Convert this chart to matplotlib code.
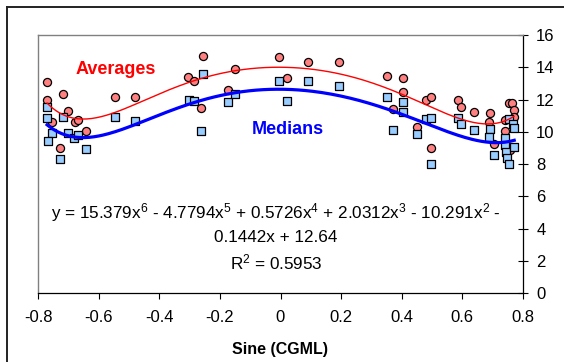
import matplotlib
matplotlib.use('Agg')
import matplotlib.pyplot as plt
from matplotlib.lines import Line2D
import numpy as np

plt.rcParams['font.family'] = ['Liberation Sans', 'DejaVu Sans']
plt.rcParams['mathtext.fontset'] = 'custom'
plt.rcParams['mathtext.rm'] = 'Liberation Sans'
plt.rcParams['mathtext.it'] = 'Liberation Sans'

# Averages (red circles)
avg_x = [-0.771, -0.771, -0.718, -0.701, -0.756, -0.679, -0.668, -0.642, -0.728, -0.547,
         -0.481, -0.305, -0.285, -0.255, -0.264, -0.175, -0.149, -0.005, 0.020, 0.090,
         0.193, 0.352, 0.405, 0.405, 0.370, 0.450, 0.481, 0.497, 0.497, 0.586,
         0.596, 0.640, 0.692, 0.689, 0.705, 0.740, 0.742, 0.755, 0.766, 0.770,
         0.771, 0.758]
avg_y = [13.09, 11.98, 12.35, 11.31, 10.63, 10.63, 10.71, 10.06, 9.02, 12.16,
         12.16, 13.38, 13.17, 14.72, 11.46, 12.60, 13.87, 14.66, 13.36, 14.35,
         14.35, 13.46, 13.36, 12.49, 11.40, 10.32, 11.98, 12.16, 9.00, 11.98,
         11.56, 11.23, 11.15, 10.63, 9.25, 10.06, 10.71, 11.77, 11.77, 11.36,
         10.95, 8.88]

# Medians (blue squares)
med_x = [-0.771, -0.771, -0.755, -0.767, -0.718, -0.701, -0.681, -0.670, -0.728, -0.643,
         -0.548, -0.482, -0.303, -0.285, -0.255, -0.264, -0.175, -0.149, -0.006, 0.020,
         0.090, 0.193, 0.352, 0.370, 0.405, 0.405, 0.450, 0.481, 0.497, 0.497,
         0.586, 0.596, 0.640, 0.692, 0.689, 0.706, 0.740, 0.742, 0.745, 0.747,
         0.755, 0.755, 0.768, 0.771, 0.772]
med_y = [11.56, 10.88, 9.95, 9.45, 10.95, 9.95, 9.60, 9.81, 8.34, 8.94,
         10.95, 10.66, 11.98, 11.91, 13.57, 10.07, 11.83, 12.35, 13.17, 11.91,
         13.17, 12.86, 12.16, 10.12, 11.88, 11.23, 9.87, 10.80, 10.86, 7.98,
         10.83, 10.49, 10.12, 10.16, 9.70, 8.57, 9.60, 9.19, 8.77, 8.36,
         7.99, 10.80, 10.49, 10.21, 9.08]

# trendline coefficients shown on the chart (medians), highest power first
med_coef = [15.379, -4.7794, 0.5726, 2.0312, -10.291, -0.1442, 12.64]

x_ticks = [-0.8, -0.6, -0.4, -0.2, 0, 0.2, 0.4, 0.6, 0.8]
x_labels = ['-0.8', '-0.6', '-0.4', '-0.2', '0', '0.2', '0.4', '0.6', '0.8']
y_ticks = [0, 2, 4, 6, 8, 10, 12, 14, 16]

fig = plt.figure(figsize=(5.64, 3.62), dpi=100)
ax = fig.add_axes([38.3 / 564, 68.7 / 362, 484.4 / 564, 258.3 / 362])

ax.scatter(avg_x, avg_y, s=34, marker='o', facecolor='#FF8080', edgecolor='black',
           linewidth=0.9, zorder=3)
ax.scatter(med_x, med_y, s=34, marker='s', facecolor='#99CCFF', edgecolor='black',
           linewidth=0.9, zorder=4)

# 6th order polynomial trendlines
avg_coef = np.polyfit(avg_x, avg_y, 6)
xa = np.linspace(min(avg_x), max(avg_x), 200)
ax.plot(xa, np.polyval(avg_coef, xa), color='red', linewidth=1.0, zorder=5)
xm = np.linspace(min(med_x), max(med_x), 200)
ax.plot(xm, np.polyval(med_coef, xm), color='blue', linewidth=2.3, zorder=5)

ax.set_xlim(-0.8, 0.8)
ax.set_ylim(0, 16)
ax.set_xticks(x_ticks)
ax.set_xticklabels(x_labels)
ax.set_yticks(y_ticks)
ax.yaxis.tick_right()
ax.tick_params(axis='y', direction='inout', length=7.5, width=0.8, pad=6, labelsize=12)
ax.tick_params(axis='x', direction='out', length=4, width=0.8, pad=8, labelsize=12)

for side in ['top', 'left']:
    ax.spines[side].set_color('#808080')
    ax.spines[side].set_linewidth(1.0)
for side in ['right', 'bottom']:
    ax.spines[side].set_color('black')
    ax.spines[side].set_linewidth(0.9)

ax.set_xlabel('Sine (CGML)', fontsize=11.5, fontweight='bold', labelpad=12)

ax.text((116 - 38.3) / 484.4, (293.3 - 70) / 258.3, 'Averages', color='red', fontsize=13,
        fontweight='bold', ha='center', va='center', transform=ax.transAxes)
ax.text((287.5 - 38.3) / 484.4, (293.3 - 130) / 258.3, 'Medians', color='blue', fontsize=13,
        fontweight='bold', ha='center', va='center', transform=ax.transAxes)

eq1 = ('y = 15.379x$^{6}$ - 4.7794x$^{5}$ + 0.5726x$^{4}$ + 2.0312x$^{3}$ - '
       '10.291x$^{2}$ -')
ax.text(0.4907, (293.3 - 213) / 258.3, eq1, fontsize=12.3, ha='center', va='center',
        transform=ax.transAxes)
ax.text(0.4907, (293.3 - 237) / 258.3, '0.1442x + 12.64', fontsize=12.3, ha='center',
        va='center', transform=ax.transAxes)
ax.text(0.4907, (293.3 - 262) / 258.3, 'R$^{2}$ = 0.5953', fontsize=12.3, ha='center',
        va='center', transform=ax.transAxes)

# outer chart border (left and top edges visible)
fig.add_artist(Line2D([7.3 / 564, 7.3 / 564], [0, 1 - 7.3 / 362], color='#222222',
                      linewidth=1.4, transform=fig.transFigure))
fig.add_artist(Line2D([7.3 / 564, 1], [1 - 7.3 / 362, 1 - 7.3 / 362], color='#222222',
                      linewidth=1.4, transform=fig.transFigure))

fig.savefig('out.png', dpi=100)
